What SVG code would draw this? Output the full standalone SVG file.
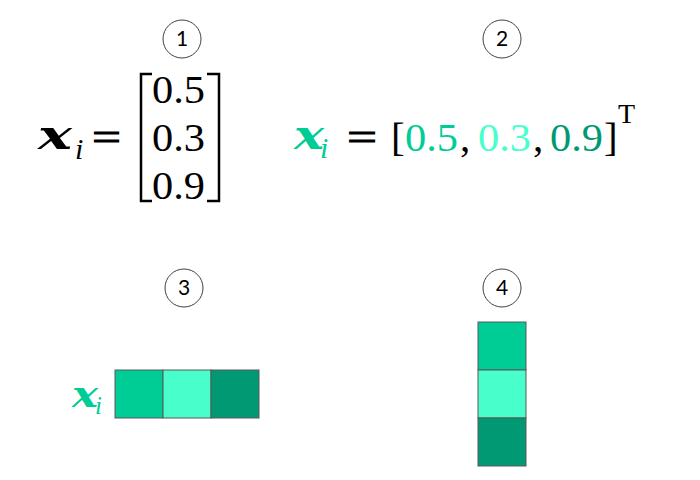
<svg xmlns="http://www.w3.org/2000/svg" width="700" height="480" viewBox="0 0 700 480">
<style>
.badge{fill:#fff;stroke:#404040;stroke-width:1}
.bnum{font-family:Lato,"Liberation Sans",sans-serif;font-size:21px;fill:#000;text-anchor:middle}
.num{font-family:"Liberation Serif",serif;font-size:41px}
.eq{font-family:"Liberation Serif",serif;font-size:40px;stroke:#000;stroke-width:1}
.xv{font-family:"DejaVu Serif",serif;font-size:41px;font-weight:bold;font-style:italic}
.sub{font-family:"Liberation Serif",serif;font-size:30px;font-style:italic}
.cell{stroke:#595959;stroke-width:1}
.c1{fill:#00CC96}.c2{fill:#48FFCC}.c3{fill:#009973}
.t1{fill:#00CC96}.t2{fill:#48FFCC}.t3{fill:#009973}
.br{fill:none;stroke:#000;stroke-width:2.5}
</style>
<rect width="700" height="480" fill="#fff"/>
<g id="badge1"><circle class="badge" cx="182" cy="39" r="19"/><text class="bnum" x="182" y="46">1</text></g>
<g id="badge2"><circle class="badge" cx="502" cy="39" r="19"/><text class="bnum" x="502" y="46">2</text></g>
<g id="badge3"><circle class="badge" cx="184" cy="288" r="19"/><text class="bnum" x="184" y="295">3</text></g>
<g id="badge4"><circle class="badge" cx="502" cy="288" r="19"/><text class="bnum" x="502" y="295">4</text></g>

<g id="formula1">
<text class="xv" x="38" y="149" textLength="34" lengthAdjust="spacingAndGlyphs">x</text>
<text class="sub" x="75" y="159">i</text>
<text class="eq" x="92" y="151" textLength="29" lengthAdjust="spacingAndGlyphs">=</text>
<path class="br" d="M152,74 H141 V201 H152"/>
<path class="br" d="M207,74 H219 V201 H207"/>
<text class="num" x="152" y="103" textLength="53" lengthAdjust="spacingAndGlyphs">0.5</text>
<text class="num" x="152" y="151" textLength="53" lengthAdjust="spacingAndGlyphs">0.3</text>
<text class="num" x="152" y="199" textLength="53" lengthAdjust="spacingAndGlyphs">0.9</text>
</g>

<g id="formula2">
<text class="xv t1" x="294" y="149" textLength="30" lengthAdjust="spacingAndGlyphs">x</text>
<text class="sub t1" x="320" y="158">i</text>
<text class="eq" x="347" y="151" textLength="30" lengthAdjust="spacingAndGlyphs">=</text>
<text class="num" x="391" y="151">[</text>
<text class="num t1" x="405" y="151" textLength="53" lengthAdjust="spacingAndGlyphs">0.5</text>
<text class="num" x="460" y="151">,</text>
<text class="num t2" x="478" y="151" textLength="53" lengthAdjust="spacingAndGlyphs">0.3</text>
<text class="num" x="533" y="151">,</text>
<text class="num t3" x="550" y="151" textLength="53" lengthAdjust="spacingAndGlyphs">0.9</text>
<text class="num" x="604" y="151">]</text>
<text class="num" x="618" y="123" style="font-size:28px">T</text>
</g>

<g id="row-vector">
<text class="xv t1" x="72" y="407" style="font-size:35px" textLength="26" lengthAdjust="spacingAndGlyphs">x</text>
<text class="sub t1" x="95" y="414" style="font-size:25px">i</text>
<rect class="cell c1" x="115" y="370" width="48" height="48"/>
<rect class="cell c2" x="163" y="370" width="48" height="48"/>
<rect class="cell c3" x="211" y="370" width="48" height="48"/>
</g>

<g id="column-vector">
<rect class="cell c1" x="478" y="322" width="48" height="48"/>
<rect class="cell c2" x="478" y="370" width="48" height="48"/>
<rect class="cell c3" x="478" y="418" width="48" height="48"/>
</g>
</svg>
